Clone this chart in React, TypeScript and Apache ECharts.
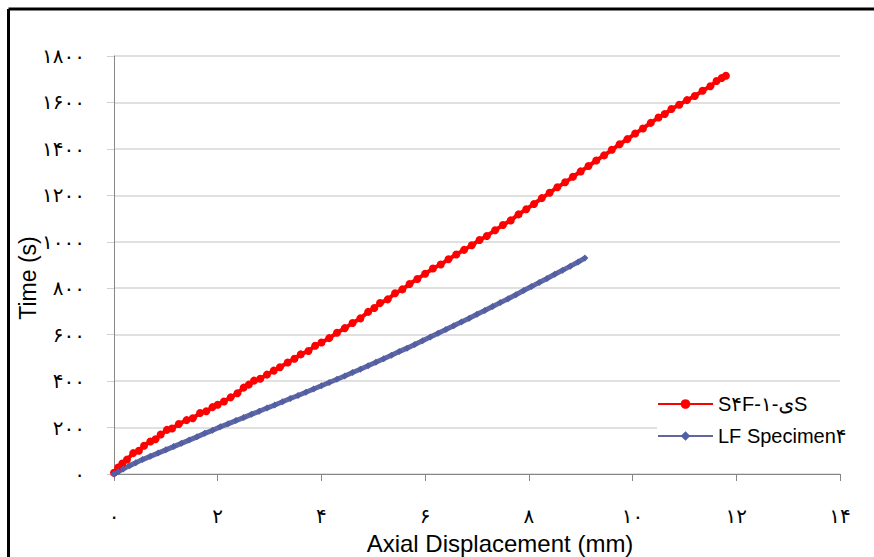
import React, { useEffect, useRef } from "react";
import * as echarts from "echarts";

const seriesNames = ["S۴F-۱-یS", "LF Specimen۴"];

const redX = [0, 0.08, 0.16, 0.25, 0.37, 0.48, 0.58, 0.7, 0.8, 0.9, 1.02, 1.12, 1.25, 1.4, 1.52, 1.66, 1.78, 1.9, 2.0, 2.12, 2.25, 2.38, 2.5, 2.6, 2.7, 2.82, 2.95, 3.08, 3.2, 3.35, 3.48, 3.6, 3.75, 3.88, 4.0, 4.15, 4.3, 4.45, 4.6, 4.75, 4.9, 5.02, 5.13, 5.28, 5.42, 5.56, 5.7, 5.85, 6.0, 6.15, 6.3, 6.45, 6.6, 6.75, 6.9, 7.05, 7.19, 7.35, 7.5, 7.65, 7.8, 7.95, 8.1, 8.25, 8.4, 8.55, 8.7, 8.85, 9.0, 9.15, 9.3, 9.45, 9.6, 9.75, 9.9, 10.05, 10.2, 10.35, 10.5, 10.62, 10.75, 10.9, 11.05, 11.2, 11.35, 11.5, 11.62, 11.72, 11.8];
const redY = [5, 28, 45, 62, 90, 100, 122, 140, 150, 170, 190, 196, 215, 232, 240, 263, 270, 288, 298, 312, 330, 348, 372, 385, 402, 410, 428, 445, 460, 480, 496, 515, 530, 552, 566, 585, 608, 628, 650, 670, 698, 715, 736, 752, 778, 795, 818, 840, 862, 885, 902, 925, 945, 965, 985, 1008, 1025, 1050, 1072, 1092, 1118, 1140, 1163, 1188, 1211, 1235, 1256, 1280, 1303, 1326, 1350, 1372, 1396, 1420, 1442, 1466, 1488, 1512, 1535, 1550, 1572, 1590, 1610, 1628, 1650, 1670, 1692, 1705, 1715];

const blueX = [0, 0.08, 0.18, 0.3, 0.42, 0.55, 0.7, 0.85, 1.0, 1.15, 1.3, 1.45, 1.6, 1.75, 1.9, 2.05, 2.2, 2.35, 2.5, 2.65, 2.8, 2.95, 3.1, 3.25, 3.4, 3.55, 3.7, 3.85, 4.0, 4.15, 4.3, 4.45, 4.6, 4.75, 4.9, 5.05, 5.2, 5.35, 5.5, 5.65, 5.8, 5.95, 6.1, 6.25, 6.4, 6.55, 6.7, 6.85, 7.0, 7.15, 7.3, 7.45, 7.6, 7.75, 7.9, 8.05, 8.2, 8.35, 8.5, 8.65, 8.8, 8.95, 9.08];
const blueY = [0, 10, 22, 36, 48, 62, 76, 90, 104, 118, 132, 146, 160, 175, 188, 203, 216, 230, 243, 257, 270, 284, 297, 311, 325, 338, 352, 366, 380, 394, 408, 422, 437, 451, 466, 481, 496, 511, 527, 542, 558, 574, 590, 606, 622, 638, 655, 671, 688, 704, 721, 738, 755, 772, 790, 807, 825, 842, 860, 877, 895, 913, 930];

const xTickLabels = ["۰", "۲", "۴", "۶", "۸", "۱۰", "۱۲", "۱۴"];
const yTickLabels = ["۰", "۲۰۰", "۴۰۰", "۶۰۰", "۸۰۰", "۱۰۰۰", "۱۲۰۰", "۱۴۰۰", "۱۶۰۰", "۱۸۰۰"];

const xTitle = "Axial Displacement (mm)";
const yTitle = "Time (s)";

export default function App() {
  const ref = useRef<HTMLDivElement>(null);
  useEffect(() => {
    if (!ref.current) return;
    const chart = echarts.init(ref.current, null, { renderer: "svg" });
    const tickFont = "'DejaVu Sans', 'Liberation Sans', sans-serif";
    const textFont = "'Liberation Sans', 'DejaVu Sans', Arial, sans-serif";
    chart.setOption({
      animation: false,
      backgroundColor: "#ffffff",
      grid: { left: 114, right: 34, top: 56, bottom: 83, containLabel: false },
      xAxis: {
        type: "value",
        min: 0,
        max: 14,
        interval: 2,
        axisLine: { show: true, onZero: false, lineStyle: { color: "#868686", width: 1 } },
        axisTick: { show: true, length: 7, lineStyle: { color: "#868686" } },
        splitLine: { show: false },
        axisLabel: {
          margin: 32,
          color: "#000",
          fontSize: 20,
          fontFamily: tickFont,
          formatter: (v: number) => xTickLabels[Math.round(v / 2)] ?? "",
        },
      },
      yAxis: {
        type: "value",
        min: 0,
        max: 1800,
        interval: 200,
        axisLine: { show: true, lineStyle: { color: "#868686", width: 1 } },
        axisTick: { show: true, length: 7, lineStyle: { color: "#d0d0d0" } },
        splitLine: { show: true, lineStyle: { color: "#d6d6d6", width: 1.5 } },
        axisLabel: {
          margin: 29,
          color: "#000",
          fontSize: 20,
          fontFamily: tickFont,
          formatter: (v: number) => yTickLabels[Math.round(v / 200)] ?? "",
        },
      },
      legend: {
        orient: "vertical",
        left: 657,
        top: 390,
        itemWidth: 55,
        itemHeight: 12,
        itemGap: 12,
        padding: [4, 30, 6, 0],
        backgroundColor: "#ffffff",
        textStyle: { fontSize: 20, color: "#000", fontFamily: textFont },
        data: seriesNames,
      },
      graphic: [
        { type: "line", shape: { x1: 8.5, y1: 9, x2: 874, y2: 9 }, style: { stroke: "#000", lineWidth: 3 } },
        { type: "line", shape: { x1: 8.5, y1: 9, x2: 8.5, y2: 557 }, style: { stroke: "#000", lineWidth: 3 } },
        {
          type: "text",
          x: 500,
          y: 543,
          style: { text: xTitle, fontSize: 24, fontFamily: textFont, fill: "#000", align: "center", verticalAlign: "middle" },
        },
        {
          type: "text",
          x: 28,
          y: 278,
          rotation: Math.PI / 2,
          style: { text: yTitle, fontSize: 23, fontFamily: textFont, fill: "#000", align: "center", verticalAlign: "middle" },
        },
      ],
      series: [
        {
          name: seriesNames[0],
          type: "line",
          data: redX.map((x, i) => [x, redY[i]]),
          symbol: "circle",
          symbolSize: 8,
          showSymbol: true,
          lineStyle: { color: "#ff0000", width: 4 },
          itemStyle: { color: "#ff0000" },
        },
        {
          name: seriesNames[1],
          type: "line",
          data: blueX.map((x, i) => [x, blueY[i]]),
          symbol: "diamond",
          symbolSize: 7,
          showSymbol: true,
          lineStyle: { color: "#64669e", width: 5 },
          itemStyle: { color: "#5060a8" },
        },
      ],
    });
    return () => chart.dispose();
  }, []);
  return (
    <div style={{ position: "fixed", left: 0, top: 0, width: 874, height: 557 }}>
      <div ref={ref} style={{ width: 874, height: 557 }} />
    </div>
  );
}
